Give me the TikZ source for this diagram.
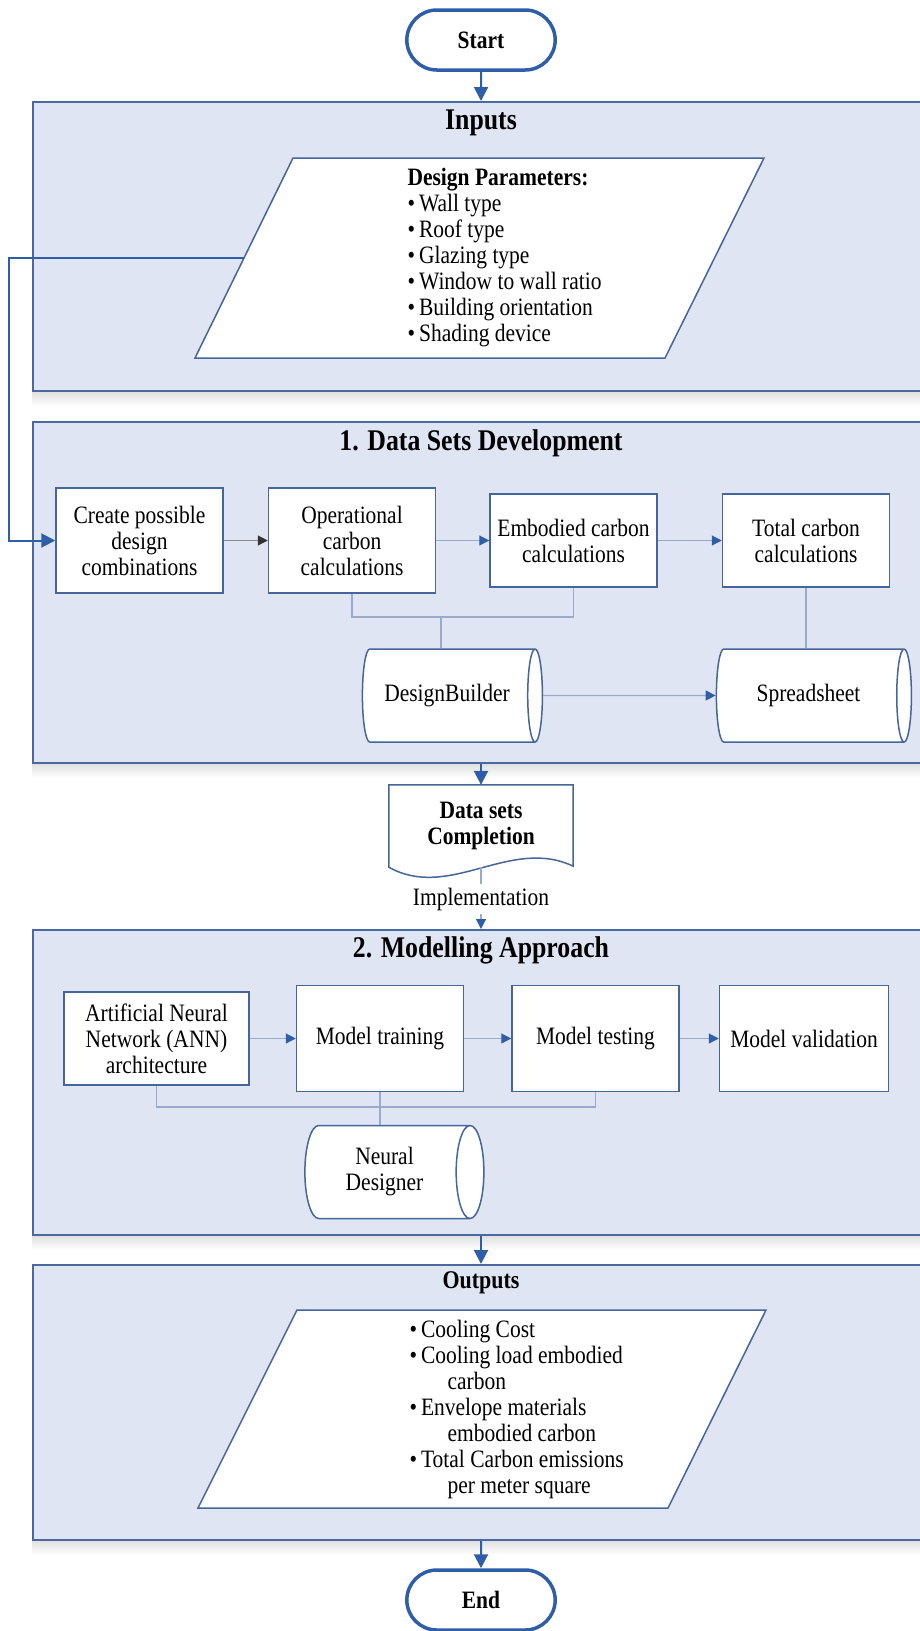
\documentclass[tikz,border=0pt]{standalone}
\usepackage{fontspec}
\setmainfont{Liberation Serif}[FakeStretch=0.86]
\usepackage{tikz}
\usetikzlibrary{arrows.meta, positioning, shapes.geometric, shapes.misc, backgrounds}
\usepackage{xcolor}

\definecolor{panelfill}{HTML}{DFE5F3}
\definecolor{panelline}{HTML}{4A6A9F}
\definecolor{flowblue}{HTML}{2F5EA9}
\definecolor{boxline}{HTML}{46659A}
\definecolor{tieline}{HTML}{9AAACB}

\begin{document}
\begin{tikzpicture}[
    x=1pt, y=-1pt,
    >={Triangle[length=14pt,width=14pt]},
    every node/.style={font=\fontsize{25}{26}\selectfont},
    panel/.style={rectangle, draw=panelline, line width=2pt, fill=panelfill, minimum width=888pt, inner sep=0pt},
    paneltitle/.style={font=\fontsize{30}{32}\selectfont\bfseries},
    terminal/.style={rounded rectangle, draw=flowblue, line width=3.5pt, fill=white, minimum width=155pt, minimum height=60pt, font=\fontsize{25}{26}\selectfont\bfseries},
    iobox/.style={draw=boxline, line width=1.5pt, fill=white},
    stepbox/.style={rectangle, draw=boxline, line width=1.5pt, fill=white, align=center, minimum width=167pt, minimum height=105pt, inner sep=2pt},
    store/.style={cylinder, draw=boxline, line width=1.5pt, fill=white, align=center, aspect=0.5, minimum height=180pt, minimum width=93pt},
    flow/.style={->, draw=flowblue, line width=2pt},
    link/.style={-{Triangle[length=10pt,width=10pt,color=flowblue]}, draw=tieline, line width=1.2pt},
    darklink/.style={-{Triangle[length=10pt,width=10pt,color=black!80]}, draw=black!45, line width=1.2pt},
    tie/.style={draw=tieline, line width=1.2pt}
  ]
  \useasboundingbox (0,0) rectangle (919,1631);

  % panels
  \node[panel, minimum height=289pt] (inputs) at (477,246.5) {};
  \node[panel, minimum height=341pt] (datasets) at (477,592.5) {};
  \node[panel, minimum height=305pt] (modelling) at (477,1082.5) {};
  \node[panel, minimum height=275pt] (outputs) at (477,1402.5) {};
  \begin{scope}[on background layer]
    \foreach \p in {inputs, datasets, modelling, outputs}
      \shade[top color=black!12, bottom color=white] (\p.south west) rectangle ([yshift=-14pt]\p.south east);
  \end{scope}

  \node[paneltitle] (inputstitle) at (481,123) {Inputs};
  \node[paneltitle] (datatitle) at (481,443) {1. Data Sets Development};
  \node[paneltitle] (modeltitle) at (481,950) {2. Modelling Approach};
  \node[font=\fontsize{25.5}{28}\selectfont\bfseries] (outputstitle) at (481,1283) {Outputs};

  % start and end
  \node[terminal] (start) at (481,40) {Start};
  \node[terminal] (end) at (481,1600) {End};

  % inputs
  \draw[iobox] (293,158) -- (764,158) -- (665,358) -- (195,358) -- cycle;
  \coordinate (paramside) at (244,258);
  \node[align=left, anchor=west] (paramlist) at (404,258) {\textbf{Design Parameters:}\\
    \textbullet\hspace{4pt}Wall type\\
    \textbullet\hspace{4pt}Roof type\\
    \textbullet\hspace{4pt}Glazing type\\
    \textbullet\hspace{4pt}Window to wall ratio\\
    \textbullet\hspace{4pt}Building orientation\\
    \textbullet\hspace{4pt}Shading device};

  % data sets development
  \node[stepbox] (create) at (139.5,540.5) {Create possible\\design\\combinations};
  \node[stepbox, right=44pt of create] (oper) {Operational\\carbon\\calculations};
  \node[stepbox, minimum height=93pt, right=53pt of oper] (embod) {Embodied carbon\\calculations};
  \node[stepbox, minimum height=93pt, right=64pt of embod] (total) {Total carbon\\calculations};

  \node[store] (builder) at (447,695.5) {DesignBuilder};
  \node[store, minimum height=195pt] (sheet) at (808.5,695.5) {Spreadsheet};

  \draw[darklink] (create) -- (oper);
  \draw[link] (oper) -- (embod);
  \draw[link] (embod) -- (total);
  \draw[link] (builder) -- (sheet);

  \coordinate (dbjoin) at (441,617);
  \draw[tie] (oper.south) |- (dbjoin) -| (embod.south);
  \draw[tie] (dbjoin) -- (dbjoin |- builder.north);
  \draw[tie] (total.south) -- (total.south |- sheet.north);

  % data sets completion
  \node[minimum width=184pt, minimum height=82pt, inner sep=0pt, align=center, font=\fontsize{25}{26}\selectfont\bfseries] (done) at (481,826) {Data sets\\Completion};
  \begin{scope}[on background layer]
    \draw[draw=boxline, line width=1.5pt, fill=white] (done.south west) -- (done.north west) -- (done.north east) -- ([yshift=1pt]done.south east)
      .. controls +(-63pt,30pt) and +(61pt,-34pt) .. (done.south west) -- cycle;
  \end{scope}
  \node (impl) at (481,899) {Implementation};

  % modelling approach
  \node[stepbox, minimum width=185pt, minimum height=93pt] (ann) at (156.5,1038.5) {Artificial Neural\\Network (ANN)\\architecture};
  \node[stepbox, minimum height=106pt, right=46pt of ann] (train) {Model training};
  \node[stepbox, minimum height=106pt, right=47pt of train] (test) {Model testing};
  \node[stepbox, minimum height=106pt, minimum width=169pt, right=39pt of test] (valid) {Model validation};

  \node[store, minimum height=179pt] (neural) at (384.5,1172) {Neural\\Designer};

  \draw[link] (ann) -- (train);
  \draw[link] (train) -- (test);
  \draw[link] (test) -- (valid);

  \coordinate (ndjoin) at (378.5,1107);
  \draw[tie] (ann.south) |- (ndjoin) -| (test.south);
  \draw[tie] (train.south) -- (train.south |- neural.north);

  % outputs
  \draw[iobox] (297,1310) -- (766,1310) -- (668,1508) -- (198,1508) -- cycle;
  \node[align=left, anchor=west] (resultlist) at (406,1409) {\textbullet\hspace{4pt}Cooling Cost\\
    \textbullet\hspace{4pt}Cooling load embodied\\
    \hspace*{38pt}carbon\\
    \textbullet\hspace{4pt}Envelope materials\\
    \hspace*{38pt}embodied carbon\\
    \textbullet\hspace{4pt}Total Carbon emissions\\
    \hspace*{38pt}per meter square};

  % main flow
  \coordinate (loop) at (9,258);
  \draw[flow] (start) -- (start |- inputs.north);
  \draw[flow] (paramside) -- (loop) |- (create.west);
  \draw[flow] (done.north |- datasets.south) -- (done.north);
  \draw[tie] (done.south) -- (impl.north);
  \draw[link] (impl.south) -- (impl.south |- modelling.north);
  \draw[flow] (end |- modelling.south) -- (end |- outputs.north);
  \draw[flow] (end |- outputs.south) -- (end);

\end{tikzpicture}
\end{document}
